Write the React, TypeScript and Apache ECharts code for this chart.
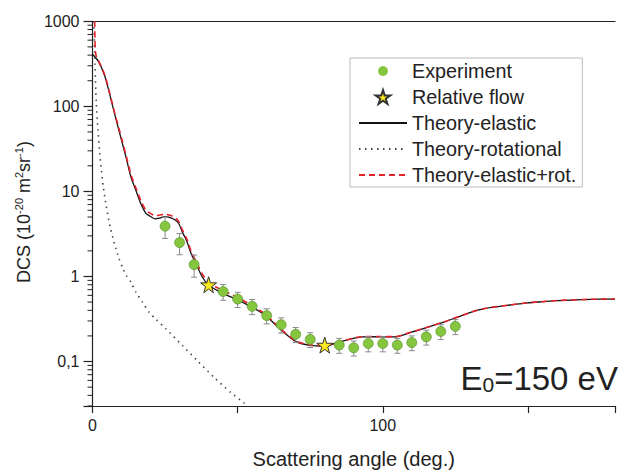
import React, { useEffect, useRef } from 'react';
import * as echarts from 'echarts';

// ---- data ----
const expAngles = [25, 30, 35, 45, 50, 55, 60, 65, 70, 75, 85, 90, 95, 100, 105, 110, 115, 120, 125];
const expDcs = [3.9, 2.5, 1.38, 0.665, 0.542, 0.446, 0.347, 0.271, 0.209, 0.182, 0.156, 0.145, 0.163, 0.163, 0.156, 0.167, 0.195, 0.226, 0.259];
const expErr = [1.1, 0.7, 0.4, 0.14, 0.11, 0.09, 0.07, 0.055, 0.042, 0.036, 0.031, 0.029, 0.033, 0.033, 0.031, 0.033, 0.039, 0.045, 0.052];

const relAngles = [40, 80];
const relDcs = [0.8, 0.156];

const elasticAngles = [0, 2, 4.2, 5.9, 7.6, 9.3, 11.6, 13.3, 15, 16.7, 18.4, 19.5, 21.5, 23, 24.8, 27, 28.5, 29.7, 31, 32.5, 34, 35.7, 37.6, 40, 45.5, 50, 55, 59, 62, 65.8, 70.3, 75, 80, 85, 93, 98, 104, 110, 115, 121, 127, 132.5, 138, 143.8, 150, 155, 160, 166.4, 172, 178, 180];
const elasticDcs = [410, 340, 229, 140, 82, 49, 24.8, 14.5, 10.2, 7.1, 5.5, 5.2, 4.75, 4.85, 5.05, 4.9, 4.6, 4.2, 3.3, 2.6, 1.85, 1.4, 1.02, 0.79, 0.62, 0.53, 0.435, 0.36, 0.293, 0.222, 0.17, 0.155, 0.152, 0.17, 0.195, 0.196, 0.195, 0.222, 0.25, 0.29, 0.345, 0.4, 0.435, 0.462, 0.49, 0.505, 0.52, 0.532, 0.538, 0.542, 0.543];

const rotAngles = [0.5, 0.85, 1.3, 1.9, 2.5, 3.1, 3.7, 4.5, 5.6, 6.2, 7.6, 9.1, 10.4, 11.8, 13.3, 15, 17.2, 19.5, 22, 25.2, 30.8, 36.4, 42.1, 47.7, 52, 54];
const rotDcs = [1000, 310, 110, 52, 28, 17.5, 11.5, 7.5, 4.6, 3.7, 2.4, 1.64, 1.26, 1.01, 0.85, 0.65, 0.5, 0.38, 0.31, 0.244, 0.156, 0.1, 0.064, 0.043, 0.033, 0.029];

const sumAngles = [0.75, 0.85, 0.95, 1.2, 2, 4.2, 5.9, 7.6, 9.3, 11.6, 13.3, 15, 16.7, 18.4, 19.5, 21.5, 23, 24.8, 27, 28.5, 29.7, 31, 32.5, 34, 35.7, 37.6, 40, 45.5, 50, 55, 59, 62, 65.8, 70.3, 75, 80, 85, 93, 98, 104, 110, 115, 121, 127, 132.5, 138, 143.8, 150, 155, 160, 166.4, 172, 178, 180];
const sumDcs = [1000, 600, 460, 400, 350, 236, 144, 85, 52, 26.2, 15.5, 10.9, 7.7, 6.0, 5.65, 5.2, 5.25, 5.4, 5.2, 4.9, 4.45, 3.5, 2.76, 1.97, 1.5, 1.1, 0.85, 0.67, 0.565, 0.455, 0.37, 0.3, 0.226, 0.173, 0.157, 0.153, 0.171, 0.196, 0.197, 0.196, 0.223, 0.251, 0.291, 0.346, 0.401, 0.436, 0.463, 0.491, 0.506, 0.521, 0.533, 0.539, 0.543, 0.544];

const xLabelValues = [0, 100];
const yTickValues = [0.1, 1, 10, 100, 1000];
const yTickLabels = ['0,1', '1', '10', '100', '1000'];
const yMinorMultipliers = [2, 3, 4, 5, 6, 7, 8, 9];
const yDecades = [0.01, 0.1, 1, 10, 100];

const FONT = 'Liberation Sans, Arial, Helvetica, sans-serif';
const STAR = 'path://M50,0 L61,35 L98,35 L68,57 L79,91 L50,70 L21,91 L32,57 L2,35 L39,35 Z';

const zip = (a: number[], b: number[]) => a.map((x, i) => [x, b[i]]);

export default function App() {
  const ref = useRef<HTMLDivElement>(null);
  useEffect(() => {
    if (!ref.current) return;
    const chart = echarts.init(ref.current, undefined, { renderer: 'svg' });

    const minorTicks: number[][] = [];
    yDecades.forEach((d) => yMinorMultipliers.forEach((m) => {
      const v = m * d;
      if (v >= 0.03 && v < 1000) minorTicks.push([0, v]);
    }));

    const errData = expAngles.map((x, i) => [x, expDcs[i] - expErr[i], expDcs[i] + expErr[i]]);
    const noSymbol = { color: 'rgba(0,0,0,0)', borderColor: 'rgba(0,0,0,0)', borderWidth: 0 };

    chart.setOption({
      animation: false,
      backgroundColor: '#ffffff',
      grid: { left: 92.5, top: 21.3, bottom: 62.3, right: -6 },
      legend: {
        orient: 'vertical', left: 350, top: 58,
        itemWidth: 48, itemHeight: 14, itemGap: 6,
        padding: [3, 6, 2, 8],
        borderColor: '#bbbbbb', borderWidth: 1, backgroundColor: '#ffffff',
        textStyle: { fontSize: 19.8, fontFamily: FONT, color: '#222' },
        data: [
          { name: 'Experiment', itemStyle: { borderColor: '#ffffff', borderWidth: 4 } },
          { name: 'Relative flow' },
          { name: 'Theory-elastic', itemStyle: noSymbol },
          { name: 'Theory-rotational', itemStyle: noSymbol },
          { name: 'Theory-elastic+rot.', itemStyle: noSymbol },
        ],
      },
      xAxis: [
        {
          type: 'value', min: 0, max: 180, interval: 50,
          name: 'Scattering angle (deg.)', nameLocation: 'middle', nameGap: 43,
          nameTextStyle: { fontSize: 20, fontFamily: FONT, color: '#222' },
          axisLine: { lineStyle: { color: '#222', width: 1.2 } },
          axisTick: { length: 7, lineStyle: { color: '#222', width: 1.2 } },
          axisLabel: {
            fontSize: 16, fontFamily: FONT, color: '#222', margin: 11,
            formatter: (v: number) => (xLabelValues.indexOf(v) >= 0 ? String(v) : ''),
          },
          splitLine: { show: false },
        },
        {
          type: 'value', position: 'top', min: 0, max: 180,
          axisLine: { show: true, lineStyle: { color: '#222', width: 1.2 } },
          axisTick: { show: false }, axisLabel: { show: false }, splitLine: { show: false },
        },
      ],
      yAxis: {
        type: 'log', logBase: 10, min: 0.03, max: 1000,
        axisLine: { show: true, lineStyle: { color: '#222', width: 1.2 } },
        axisTick: { show: true, length: 9, lineStyle: { color: '#222', width: 1.2 } },
        axisLabel: {
          fontSize: 16, fontFamily: FONT, color: '#222', margin: 13,
          formatter: (v: number) => {
            const i = yTickValues.findIndex((t) => Math.abs(t - v) / t < 1e-6);
            return i >= 0 ? yTickLabels[i] : '';
          },
        },
        splitLine: { show: false },
      },
      graphic: [
        {
          type: 'text', x: 24, y: 212, rotation: Math.PI / 2,
          style: {
            text: '{n|DCS (10}{s|-20}{n| m}{s|2}{n|sr}{s|-1}{n|)}',
            align: 'center', verticalAlign: 'middle',
            rich: {
              n: { fontSize: 18, fontFamily: FONT, fill: '#222', lineHeight: 22 },
              s: { fontSize: 11, fontFamily: FONT, fill: '#222', lineHeight: 11, verticalAlign: 'top' },
            },
          },
        },
        {
          type: 'text', x: 618, y: 378,
          style: {
            text: '{m|E}{b|0}{m|=150 eV}',
            align: 'right', verticalAlign: 'middle',
            rich: {
              m: { fontSize: 33, fontFamily: FONT, fill: '#222', lineHeight: 33 },
              b: { fontSize: 21, fontFamily: FONT, fill: '#222', lineHeight: 18, verticalAlign: 'bottom' },
            },
          },
        },
      ],
      series: [
        {
          name: 'y-minor-ticks', type: 'custom', silent: true, clip: false,
          data: minorTicks, encode: { x: 0, y: 1 },
          renderItem: (_p: any, api: any) => {
            const p = api.coord([0, api.value(1)]);
            return { type: 'line', shape: { x1: p[0] - 5, y1: p[1], x2: p[0], y2: p[1] }, style: { stroke: '#222', lineWidth: 1 } };
          },
          z: 1,
        },
        {
          name: 'Theory-rotational', type: 'line', data: zip(rotAngles, rotDcs),
          symbol: 'none', smooth: 0.25,
          lineStyle: { color: '#444', width: 1.6, type: [1.5, 4.5] },
          itemStyle: { color: '#444' }, z: 2,
        },
        {
          name: 'Theory-elastic', type: 'line', data: zip(elasticAngles, elasticDcs),
          symbol: 'none', smooth: 0.25,
          lineStyle: { color: '#111', width: 1.3 }, itemStyle: { color: '#111' }, z: 3,
        },
        {
          name: 'Theory-elastic+rot.', type: 'line', data: zip(sumAngles, sumDcs),
          symbol: 'none', smooth: 0.25,
          lineStyle: { color: '#e5212b', width: 1.6, type: [6, 4] }, itemStyle: { color: '#e5212b' }, z: 4,
        },
        {
          name: 'error-bars', type: 'custom', silent: true,
          data: errData, encode: { x: 0, y: [1, 2] },
          renderItem: (_p: any, api: any) => {
            const lo = api.coord([api.value(0), api.value(1)]);
            const hi = api.coord([api.value(0), api.value(2)]);
            const w = 3;
            const st = { stroke: '#8a8a8a', lineWidth: 1 };
            return {
              type: 'group',
              children: [
                { type: 'line', shape: { x1: lo[0], y1: lo[1], x2: hi[0], y2: hi[1] }, style: st },
                { type: 'line', shape: { x1: lo[0] - w, y1: lo[1], x2: lo[0] + w, y2: lo[1] }, style: st },
                { type: 'line', shape: { x1: hi[0] - w, y1: hi[1], x2: hi[0] + w, y2: hi[1] }, style: st },
              ],
            };
          },
          z: 5,
        },
        {
          name: 'Experiment', type: 'scatter', data: zip(expAngles, expDcs),
          symbol: 'circle', symbolSize: 10,
          itemStyle: { color: '#86c63f', borderColor: '#4e8a24', borderWidth: 0.6, opacity: 1 }, z: 6,
        },
        {
          name: 'Relative flow', type: 'scatter', data: zip(relAngles, relDcs),
          symbol: STAR, symbolSize: 16,
          itemStyle: { color: '#fbe91c', borderColor: '#333', borderWidth: 1, opacity: 1 }, z: 7,
        },
      ],
    });
    return () => chart.dispose();
  }, []);
  return <div ref={ref} style={{ position: 'absolute', left: 0, top: 0, width: 618, height: 474 }} />;
}
